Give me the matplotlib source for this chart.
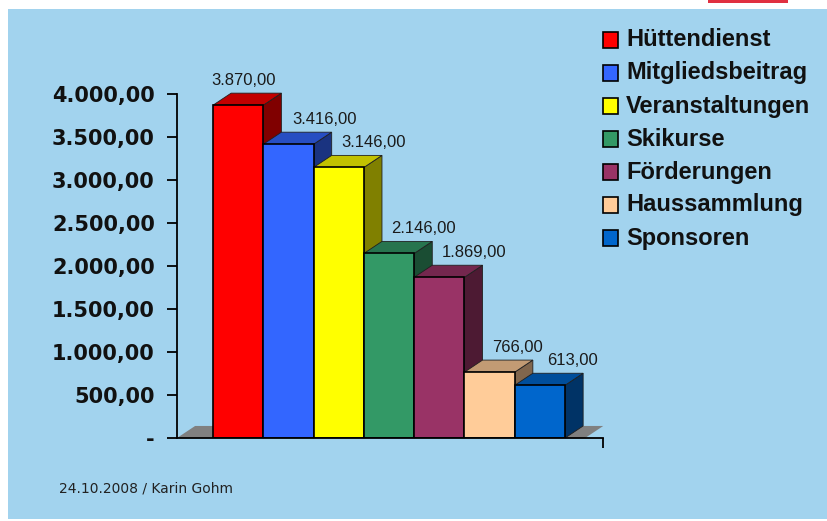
import matplotlib.pyplot as plt
from matplotlib.patches import Polygon, Rectangle
from matplotlib.ticker import FixedLocator, FuncFormatter
import matplotlib.colors as mcolors
import numpy as np

plt.rcParams['font.family'] = ['Liberation Sans', 'DejaVu Sans']

categories = ['Hüttendienst', 'Mitgliedsbeitrag', 'Veranstaltungen', 'Skikurse',
              'Förderungen', 'Haussammlung', 'Sponsoren']
values = [3870, 3416, 3146, 2146, 1869, 766, 613]
value_labels = ['3.870,00', '3.416,00', '3.146,00', '2.146,00', '1.869,00', '766,00', '613,00']
yticks = [0, 500, 1000, 1500, 2000, 2500, 3000, 3500, 4000]
ytick_labels = ['-', '500,00', '1.000,00', '1.500,00', '2.000,00', '2.500,00',
                '3.000,00', '3.500,00', '4.000,00']
colors = ['#FF0000', '#3366FF', '#FFFF00', '#339966', '#993366', '#FFCC99', '#0066CC']
footer = '24.10.2008 / Karin Gohm'

bg = '#A2D3EE'
fig = plt.figure(figsize=(8.28, 5.21), dpi=100)
fig.patch.set_facecolor('white')
# light blue slide area
fig.add_artist(Rectangle((8 / 828, 2 / 521), 1, 510 / 521, transform=fig.transFigure,
                         facecolor=bg, edgecolor='none', zorder=0))
# piece of the red logo at the top right
fig.add_artist(Rectangle((708 / 828, 518 / 521), 80 / 828, 3 / 521, transform=fig.transFigure,
                         facecolor='#E03040', edgecolor='none', zorder=0))

ax = fig.add_axes([177 / 828, 83 / 521, 426 / 828, 344 / 521])
ax.set_facecolor('none')
ax.set_xlim(-1.216, 7.255)
ax.set_ylim(0, 4000)

dx, dy = 0.36, 140  # depth of the 3d effect in data units


def shade(c, f):
    r, g, b = mcolors.to_rgb(c)
    return (r * f, g * f, b * f)


# floor
ax.add_patch(Polygon([(-1.216, 0), (6.9, 0), (6.9 + dx, dy), (-1.216 + dx, dy)],
                     closed=True, facecolor='#808080', edgecolor='none', zorder=1, clip_on=False))

x = np.arange(len(values))
for i, (xi, h, c) in enumerate(zip(x, values, colors)):
    x0, x1 = xi - 0.5, xi + 0.5
    z = 2 + i * 3
    side = Polygon([(x1, 0), (x1 + dx, dy), (x1 + dx, h + dy), (x1, h)], closed=True,
                   facecolor=shade(c, 0.5), edgecolor='#202020', lw=0.6, zorder=z, clip_on=False)
    top = Polygon([(x0, h), (x1, h), (x1 + dx, h + dy), (x0 + dx, h + dy)], closed=True,
                  facecolor=shade(c, 0.76), edgecolor='#202020', lw=0.6, zorder=z + 1, clip_on=False)
    ax.add_patch(side)
    ax.add_patch(top)
    ax.bar(xi, h, width=1.0, color=c, edgecolor='black', linewidth=1.2, zorder=z + 2)

label_dx = [0.1, 0.72, 0.7, 0.68, 0.7, 0.55, 0.64]
for xi, h, lab, off in zip(x, values, value_labels, label_dx):
    ax.text(xi + off, h + dy + 150, lab, ha='center', va='center', fontsize=12,
            color='#1a1a1a', zorder=40, clip_on=False)

for s in ['top', 'right']:
    ax.spines[s].set_visible(False)
ax.spines['left'].set_linewidth(1.3)
ax.spines['bottom'].set_linewidth(1.3)
ax.spines['bottom'].set_zorder(30)
ax.yaxis.set_major_locator(FixedLocator(yticks))
ax.yaxis.set_major_formatter(FuncFormatter(lambda v, p: ytick_labels[yticks.index(int(round(v)))]))
ax.tick_params(axis='y', length=7, width=1.3, direction='out', pad=9)
for t in ax.get_yticklabels():
    t.set_family('DejaVu Sans')
    t.set_fontweight('bold')
    t.set_fontsize(15)
    t.set_color('#111111')
ax.set_xticks([7.255])
ax.set_xticklabels([''])
ax.tick_params(axis='x', length=7, width=1.3, direction='out')

# legend drawn by hand
for i, (name, c) in enumerate(zip(categories, colors)):
    yc = 1 - (40 + i * 33.0) / 521
    fig.add_artist(Rectangle((603 / 828, yc - 8 / 521), 15 / 828, 16 / 521,
                             transform=fig.transFigure, facecolor=c, edgecolor='black', lw=1.2))
    fig.text(626 / 828, yc, name, fontsize=17, fontweight='bold', va='center', ha='left',
             color='#111111')

fig.text(59 / 828, 1 - 489 / 521, footer, fontsize=10, family='DejaVu Sans',
         va='center', ha='left', color='#222222')

fig.savefig('out.png', dpi=100, facecolor=fig.get_facecolor())
